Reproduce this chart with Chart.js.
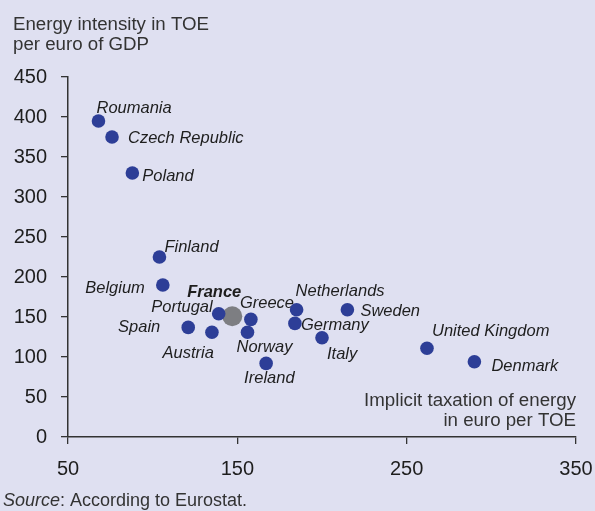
<!DOCTYPE html>
<html lang="en">
<head>
<meta charset="utf-8" />
<title>Energy intensity vs implicit taxation of energy</title>
<script src="https://cdn.jsdelivr.net/npm/chart.js@4.4"></script>
<style>
  html,body{margin:0;padding:0;background:#dfe0f1;}
  #wrap{width:595px;height:511px;}
</style>
</head>
<body>
<div id="wrap"><canvas id="chart" width="595" height="511"></canvas></div>

<script>
/***** ---------- Data ---------- *****/
const countries=['Roumania','Czech Republic','Poland','Finland','Belgium','Spain','Austria','Portugal','Greece','Norway','Ireland','Netherlands','Germany','Italy','Sweden','United Kingdom','Denmark'];
const taxation =[68,76,88,104,106,121,135,139,158,156,167,185,184,200,215,262,290];   // euro per TOE
const intensity=[395,375,330,225,190,137,131,154,147,131,92,159,142,124,159,111,94];  // TOE per euro of GDP
const franceTax=147;
const franceIntensity=151;
const xTicks=[50,150,250,350];
const yTicks=[0,50,100,150,200,250,300,350,400,450];

/***** ---------- Label placement (px offsets from point, align) ---------- *****/
const labelPos={
  'Roumania':[-2,-13,'left'],
  'Czech Republic':[16,1,'left'],
  'Poland':[10,3,'left'],
  'Finland':[5,-10,'left'],
  'Belgium':[-18,3,'right'],
  'Spain':[-28,0,'right'],
  'Austria':[2,21,'right'],
  'Portugal':[-6,-6,'right'],
  'Greece':[-11,-16,'left'],
  'Norway':[-11,15,'left'],
  'Ireland':[-22,15,'left'],
  'Netherlands':[-1,-18,'left'],
  'Germany':[6,2,'left'],
  'Italy':[5,17,'left'],
  'Sweden':[13,2,'left'],
  'United Kingdom':[5,-17,'left'],
  'Denmark':[17,5,'left']
};
const FONT='"Liberation Sans",Arial,sans-serif';
const INK='#1e1e1e';

/***** ---------- Plugins ---------- *****/
const bgPlugin={
  id:'bg',
  beforeDraw(chart){
    const c=chart.ctx;
    c.save();c.fillStyle='#dfe0f1';c.fillRect(0,0,chart.width,chart.height);c.restore();
  }
};

const labelPlugin={
  id:'labels',
  beforeDatasetsDraw(chart){
    const c=chart.ctx,xs=chart.scales.x,ys=chart.scales.y;
    c.save();
    c.fillStyle=INK;
    c.textBaseline='middle';
    c.font='italic 16.5px '+FONT;
    countries.forEach((name,i)=>{
      const p=labelPos[name];
      c.textAlign=p[2];
      c.fillText(name,xs.getPixelForValue(taxation[i])+p[0],ys.getPixelForValue(intensity[i])+p[1]);
    });
    c.font='italic bold 16.5px '+FONT;
    c.textAlign='right';
    c.fillText('France',xs.getPixelForValue(franceTax)+9,ys.getPixelForValue(franceIntensity)-24);
    c.restore();
  },
  afterDraw(chart){
    const c=chart.ctx,a=chart.chartArea;
    c.save();
    c.fillStyle='#333';
    c.textBaseline='middle';
    c.font='18.7px '+FONT;
    c.textAlign='left';
    c.fillText('Energy intensity in TOE',13,25);
    c.fillText('per euro of GDP',13,45);
    c.textAlign='right';
    c.fillText('Implicit taxation of energy',a.right,401);
    c.fillText('in euro per TOE',a.right,421);
    // source line
    c.textAlign='left';
    c.font='italic 18px '+FONT;
    c.fillText('Source',3,501);
    const w=c.measureText('Source').width;
    c.font='18px '+FONT;
    c.fillText(': According to Eurostat.',3+w,501);
    c.restore();
  }
};

/***** ---------- Chart ---------- *****/
new Chart(document.getElementById('chart'),{
  type:'scatter',
  data:{
    datasets:[
      {data:countries.map((n,i)=>({x:taxation[i],y:intensity[i]})),backgroundColor:'#2d3e97',borderWidth:0,pointRadius:6.8,pointHoverRadius:6.8},
      {data:[{x:franceTax,y:franceIntensity}],backgroundColor:'#7d7e82',borderWidth:0,pointRadius:10,pointHoverRadius:10}
    ]
  },
  options:{
    responsive:false,
    animation:false,
    events:[],
    layout:{padding:{top:77,right:19,bottom:0,left:0}},
    plugins:{legend:{display:false},tooltip:{enabled:false}},
    scales:{
      x:{
        type:'linear',min:50,max:350,
        afterBuildTicks(s){s.ticks=xTicks.map(v=>({value:v}));},
        afterFit(s){s.height=74;s.paddingLeft=0;s.paddingRight=0;},
        grid:{drawOnChartArea:false,drawTicks:true,tickLength:7,color:'#333',lineWidth:1.3},
        border:{display:true,color:'#333',width:1.5},
        ticks:{color:INK,font:{family:FONT,size:20},padding:13,maxRotation:0}
      },
      y:{
        type:'linear',min:0,max:450,
        afterBuildTicks(s){s.ticks=yTicks.map(v=>({value:v}));},
        afterFit(s){s.width=68;s.paddingTop=0;s.paddingBottom=0;},
        grid:{drawOnChartArea:false,drawTicks:true,tickLength:7,color:'#333',lineWidth:1.3},
        border:{display:true,color:'#333',width:1.5},
        ticks:{color:INK,font:{family:FONT,size:20},padding:14}
      }
    }
  },
  plugins:[bgPlugin,labelPlugin]
});
</script>
</body>
</html>
